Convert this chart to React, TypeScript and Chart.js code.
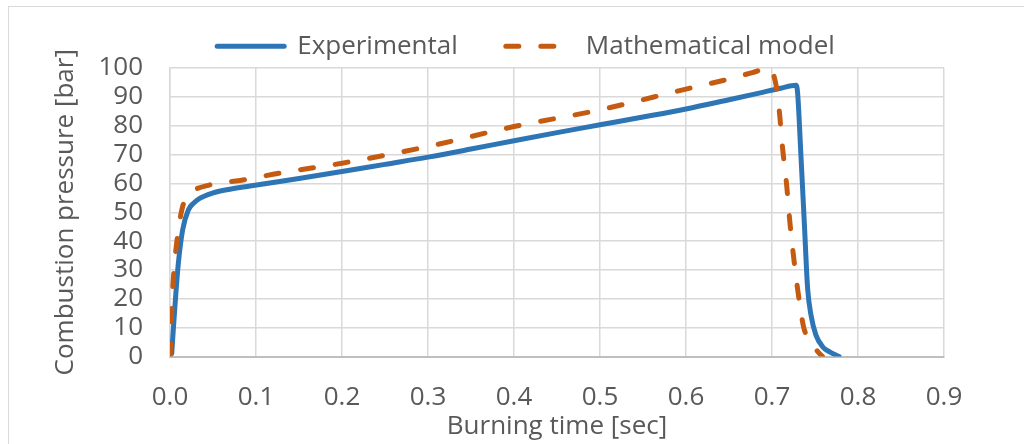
import { useEffect, useRef } from "react";
import { Chart, registerables } from "chart.js";

Chart.register(...registerables);

// ---- data ----
const seriesNames = ["Experimental", "Mathematical model"];
const xTitle = "Burning time [sec]";
const yTitle = "Combustion pressure [bar]";

const expTime = [
  0.002, 0.004, 0.006, 0.0097, 0.0147, 0.0213, 0.028, 0.035, 0.05, 0.066, 0.093,
  0.15, 0.2, 0.25, 0.3, 0.35, 0.4, 0.45, 0.5, 0.55, 0.6, 0.65, 0.685, 0.71,
  0.728, 0.7298, 0.7336, 0.7375, 0.7414, 0.7453, 0.751, 0.7588, 0.7666, 0.778,
];
const expPressure = [
  1, 10, 18.5, 32.3, 43.9, 50.8, 53.3, 54.9, 56.7, 57.8, 59.1,
  61.7, 64.1, 66.6, 69.1, 71.9, 74.8, 77.6, 80.3, 83.0, 85.8, 89.0, 91.3, 93.0,
  94.0, 91.3, 69.9, 46.8, 23.7, 14.4, 7.5, 3.4, 1.7, 0,
];

const modelTime = [
  0, 0.001, 0.002, 0.0046, 0.0078, 0.011, 0.0147, 0.019, 0.023, 0.0465, 0.085,
  0.128, 0.2, 0.3, 0.4, 0.5, 0.6, 0.65, 0.677, 0.697, 0.7046, 0.7085, 0.7123,
  0.717, 0.7209, 0.7251, 0.7302, 0.7367, 0.742, 0.747, 0.755, 0.7588,
];
const modelPressure = [
  0, 5, 16, 30, 39.4, 46.5, 52, 55, 56.6, 59.5, 61.2,
  63.6, 67.0, 72.8, 79.7, 85.5, 92.7, 96.2, 98.4, 100, 94.2, 85, 72.2,
  59.5, 46.2, 34.6, 22.5, 10.3, 6.2, 4, 1.1, 0,
];

const xMin = 0;
const xMax = 0.9;
const xStep = 0.1;
const yMin = 0;
const yMax = 100;
const yStep = 10;

// ---- styling ----
const FONT_FAMILY = "'Open Sans', sans-serif";
const FONT_SIZE = 26;
const TEXT_COLOR = "#595959";
const GRID_COLOR = "#d9d9d9";
const BLUE = "#2E75B6";
const ORANGE = "#C55A11";
const LINE_WIDTH = 5;
const DASH = [13, 22];

export default function App() {
  const canvasRef = useRef<HTMLCanvasElement>(null);

  useEffect(() => {
    let chart: Chart | null = null;
    let cancelled = false;

    const legendShift = {
      id: "legendShift",
      afterLayout(c: any) {
        const lg = c.legend;
        if (!lg || !lg.lineWidths) return;
        const pad = lg.options.labels.padding;
        const span = lg.lineWidths[0] - pad;
        const start = (lg.left + pad + lg.right - lg.lineWidths[0]) / 2;
        const dx = 517 - (start + span / 2);
        lg.left += dx;
        lg.right += dx;
      },
    };

    const build = () => {
      if (cancelled || !canvasRef.current) return;
      const font = { family: FONT_FAMILY, size: FONT_SIZE };
      const defaultLabels = (Chart as any).defaults.plugins.legend.labels.generateLabels;
      chart = new Chart(canvasRef.current, {
        type: "line",
        data: {
          datasets: [
            {
              label: seriesNames[0],
              data: expTime.map((t, i) => ({ x: t, y: expPressure[i] })),
              borderColor: BLUE,
              backgroundColor: BLUE,
              borderWidth: LINE_WIDTH,
              pointRadius: 0,
              cubicInterpolationMode: "monotone",
              borderCapStyle: "round",
              borderJoinStyle: "round",
              fill: false,
              order: 1,
            },
            {
              label: seriesNames[1],
              data: modelTime.map((t, i) => ({ x: t, y: modelPressure[i] })),
              borderColor: ORANGE,
              backgroundColor: ORANGE,
              borderWidth: LINE_WIDTH,
              borderDash: DASH,
              pointRadius: 0,
              cubicInterpolationMode: "monotone",
              borderCapStyle: "round",
              borderJoinStyle: "round",
              fill: false,
              order: 0,
            },
          ],
        },
        options: {
          responsive: false,
          animation: false,
          devicePixelRatio: 1,
          layout: { padding: { left: 0, right: 79, top: -21.7, bottom: 0 } },
          plugins: {
            tooltip: { enabled: false },
            legend: {
              position: "top",
              maxHeight: 82.7,
              labels: {
                usePointStyle: true,
                pointStyle: "line",
                pointStyleWidth: 67,
                padding: 48,
                color: TEXT_COLOR,
                font,
                sort: (a: any, b: any) => a.datasetIndex - b.datasetIndex,
                generateLabels: (c: any) =>
                  defaultLabels(c).map((item: any) => {
                    const ds = c.data.datasets[item.datasetIndex];
                    return {
                      ...item,
                      pointStyle: "line",
                      strokeStyle: ds.borderColor,
                      fillStyle: ds.borderColor,
                      lineWidth: LINE_WIDTH,
                      lineDash: ds.borderDash || [],
                      lineCap: "round",
                    };
                  }),
              },
            },
          },
          scales: {
            x: {
              type: "linear",
              min: xMin,
              max: xMax,
              ticks: {
                stepSize: xStep,
                callback: (v: any) => Number(v).toFixed(1),
                color: TEXT_COLOR,
                font,
                padding: 25,
                maxRotation: 0,
                autoSkip: false,
              },
              grid: { color: GRID_COLOR, lineWidth: 1.5, drawTicks: false },
              border: { color: "#bfbfbf", width: 2 },
              title: {
                display: true,
                text: xTitle,
                color: TEXT_COLOR,
                font,
                padding: { top: 0, bottom: 1 },
              },
              afterFit: (s: any) => {
                s.height = 86.5;
              },
            },
            y: {
              type: "linear",
              min: yMin,
              max: yMax,
              ticks: {
                stepSize: yStep,
                color: TEXT_COLOR,
                font,
                padding: 27,
                autoSkip: false,
              },
              grid: { color: GRID_COLOR, lineWidth: 1.5, drawTicks: false },
              border: { color: GRID_COLOR, width: 1.5 },
              title: {
                display: true,
                text: yTitle,
                color: TEXT_COLOR,
                font,
                padding: { top: 41.4, bottom: 0 },
              },
              afterFit: (s: any) => {
                s.width = 161;
              },
            },
          },
        },
        plugins: [legendShift],
      } as any);
    };

    const fonts = (document as any).fonts;
    if (fonts && fonts.load) {
      fonts.load(`${FONT_SIZE}px 'Open Sans'`).then(build, build);
    } else {
      build();
    }

    return () => {
      cancelled = true;
      if (chart) chart.destroy();
    };
  }, []);

  return (
    <div
      style={{
        position: "fixed",
        left: 8,
        top: 6,
        width: 1030,
        height: 460,
        border: "1px solid #d9d9d9",
        boxSizing: "border-box",
        background: "#ffffff",
        overflow: "hidden",
      }}
    >
      <canvas ref={canvasRef} width={1014} height={436} style={{ display: "block" }} />
    </div>
  );
}
